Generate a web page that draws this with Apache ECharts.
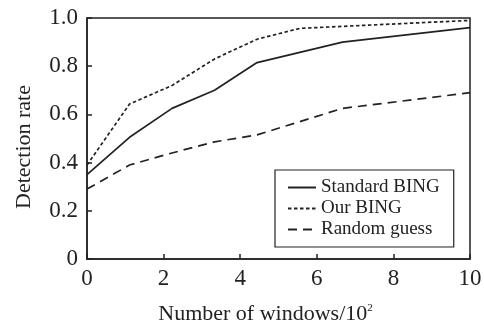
<!DOCTYPE html>
<html><head><meta charset="utf-8">
<script src="https://cdn.jsdelivr.net/npm/echarts@6/dist/echarts.min.js"></script>
<style>html,body{margin:0;padding:0;background:#fff}#c{width:484px;height:324px}</style>
</head><body><div id="c"></div>
<script>
var seriesNames = ['Standard BING', 'Our BING', 'Random guess'];
var standardX = [0, 1.11, 2.22, 3.33, 4.44, 6.67, 10];
var standardY = [0.35, 0.505, 0.625, 0.70, 0.815, 0.90, 0.96];
var ourX = [0, 1.11, 2.22, 3.33, 4.44, 5.56, 10];
var ourY = [0.39, 0.643, 0.72, 0.83, 0.912, 0.957, 0.99];
var randomX = [0, 1.11, 2.22, 3.33, 4.44, 6.67, 10];
var randomY = [0.29, 0.39, 0.44, 0.486, 0.515, 0.625, 0.69];
var xTicks = [0, 2, 4, 6, 8, 10];
var yTicks = [0, 0.2, 0.4, 0.6, 0.8, 1.0];

function pairs(xs, ys){ return xs.map(function(x,i){ return [x, ys[i]]; }); }
var font = 'Liberation Serif';
var chart = echarts.init(document.getElementById('c'), null, {renderer:'canvas'});
var styles = [
  {type:'solid', width:1.7},
  {type:[3.5,2.5], width:1.7},
  {type:[9,6], width:1.7}
];
var datas = [pairs(standardX, standardY), pairs(ourX, ourY), pairs(randomX, randomY)];
chart.setOption({
  animation:false,
  backgroundColor:'#fff',
  grid:{left:87, right:14, top:18, bottom:65, show:true, borderColor:'#222', borderWidth:1.5,
    backgroundColor:'transparent', containLabel:false, outerBoundsMode:'none'},
  xAxis:{
    type:'value', min:0, max:10, interval:2,
    name:'Number of windows/10{sup|2}', nameLocation:'middle', nameGap:44,
    nameTextStyle:{fontFamily:font, fontSize:22, color:'#222', padding:[0,26,0,0],
      rich:{sup:{fontSize:11, verticalAlign:'top', padding:[0,0,12,0], fontFamily:font, color:'#222'}}},
    axisLine:{show:true, lineStyle:{color:'#222', width:1.5}},
    axisTick:{show:true, inside:true, length:5, lineStyle:{color:'#222', width:1.5}},
    axisLabel:{fontFamily:font, fontSize:23, color:'#222', margin:8},
    splitLine:{show:false}
  },
  yAxis:{
    type:'value', min:0, max:1, interval:0.2,
    name:'Detection rate', nameLocation:'middle', nameGap:52, nameRotate:90,
    nameTextStyle:{fontFamily:font, fontSize:22, color:'#222', padding:[0,17,0,0]},
    axisLine:{show:true, lineStyle:{color:'#222', width:1.5}},
    axisTick:{show:true, inside:true, length:5, lineStyle:{color:'#222', width:1.5}},
    axisLabel:{fontFamily:font, fontSize:23, color:'#222', margin:9,
      formatter:function(v){ return v===0 ? '0' : v.toFixed(1); }},
    splitLine:{show:false}
  },
  legend:{
    data:seriesNames, orient:'vertical', left:275, top:170,
    itemWidth:28, itemHeight:14, itemGap:2,
    padding:[8,14,8,12], borderColor:'#222', borderWidth:1.2,
    itemStyle:{opacity:0},
    textStyle:{fontFamily:font, fontSize:19, color:'#222'},
    backgroundColor:'#fff'
  },
  series: seriesNames.map(function(n,i){
    return {name:n, type:'line', data:datas[i], symbol:'none', showSymbol:false,
      lineStyle:{color:'#222', type:styles[i].type, width:styles[i].width},
      itemStyle:{color:'#222'}};
  })
});
</script></body></html>
